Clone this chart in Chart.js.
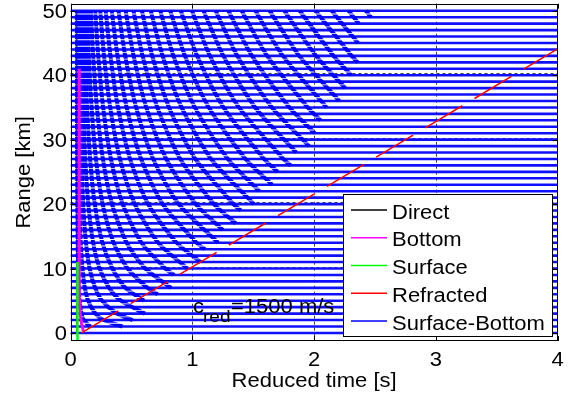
<!DOCTYPE html>
<html>
<head>
<meta charset="utf-8">
<script src="https://cdn.jsdelivr.net/npm/chart.js@4"></script>
<style>
  html, body { margin: 0; padding: 0; background: #fff; }
</style>
</head>
<body>
<canvas id="chart" width="572" height="401"></canvas>
<script>
// axis ticks
const xTicks = [0, 1, 2, 3, 4];
const yTicks = [0, 10, 20, 30, 40, 50];

// one trace line per range [km]
const rowRanges = [0, 1, 2, 3, 4, 5, 6, 7, 8, 9, 10, 11, 12, 13, 14, 15, 16, 17, 18, 19, 20,
  21, 22, 23, 24, 25, 26, 27, 28, 29, 30, 31, 32, 33, 34, 35, 36, 37, 38, 39, 40,
  41, 42, 43, 44, 45, 46, 47, 48, 49, 50];

// legend series
const seriesNames = ['Direct', 'Bottom', 'Surface', 'Refracted', 'Surface-Bottom'];
const seriesColors = ['#000000', '#ff00ff', '#00ff00', '#ff0000', '#0000ff'];

// direct, bottom, surface, refracted arrivals (reduced time [s] vs range [km])
const directT = [0.052, 0.052];
const directR = [0, 50];
const bottomT = [0.105, 0.09, 0.08, 0.074, 0.072, 0.071, 0.071];
const bottomR = [0.3, 1.5, 3, 5, 10, 25, 41];
const surfaceT = [0.057, 0.057];
const surfaceR = [-1.25, 11];
const refrT = [0.09, 4.0];
const refrR = [0, 44.1];

// surface-bottom multiples: first visible point of each branch, then times on a common range grid
const sbGrid = [1, 2, 3, 5, 7, 10, 14, 20, 27, 35, 43, 50];
const sbStartR = [1, 1, 2, 3, 5, 6, 7, 9, 10, 11, 13, 14, 16, 17, 19, 20, 22, 23, 25, 26, 28, 29,
  31, 33, 35, 36, 38, 40, 42, 45, 48, 49];
const sbStartT = [0.161, 0.425, 0.51, 0.611, 0.604, 0.715, 0.826, 0.85, 0.96, 1.07, 1.103, 1.212,
  1.25, 1.358, 1.399, 1.506, 1.55, 1.656, 1.701, 1.807, 1.853, 1.959, 2.005, 2.053, 2.103, 2.207,
  2.256, 2.306, 2.358, 2.361, 2.368, 2.468];
const sbTimes = [
  [null, 0.109, 0.090, 0.074, 0.067, 0.062, 0.059, 0.056, 0.054, 0.053, 0.053, 0.052],
  [null, 0.272, 0.204, 0.145, 0.118, 0.098, 0.084, 0.074, 0.068, 0.064, 0.061, 0.060],
  [null, null, 0.382, 0.259, 0.202, 0.157, 0.127, 0.104, 0.090, 0.081, 0.075, 0.072],
  [null, null, null, 0.414, 0.317, 0.239, 0.186, 0.146, 0.121, 0.105, 0.095, 0.088],
  [null, null, null, null, 0.451, 0.344, 0.262, 0.199, 0.161, 0.136, 0.120, 0.110],
  [null, null, null, null, 0.631, 0.469, 0.354, 0.264, 0.209, 0.173, 0.150, 0.136],
  [null, null, null, null, null, 0.614, 0.461, 0.341, 0.266, 0.217, 0.186, 0.167],
  [null, null, null, null, null, 0.778, 0.583, 0.429, 0.332, 0.268, 0.228, 0.203],
  [null, null, null, null, null, null, 0.720, 0.528, 0.406, 0.326, 0.275, 0.244],
  [null, null, null, null, null, null, 0.871, 0.637, 0.489, 0.390, 0.328, 0.289],
  [null, null, null, null, null, null, 1.035, 0.757, 0.580, 0.461, 0.386, 0.339],
  [null, null, null, null, null, null, null, 0.888, 0.679, 0.539, 0.449, 0.394],
  [null, null, null, null, null, null, null, 1.028, 0.786, 0.622, 0.518, 0.453],
  [null, null, null, null, null, null, null, 1.178, 0.901, 0.713, 0.592, 0.517],
  [null, null, null, null, null, null, null, 1.338, 1.024, 0.809, 0.671, 0.586],
  [null, null, null, null, null, null, null, null, 1.154, 0.912, 0.756, 0.659],
  [null, null, null, null, null, null, null, null, 1.292, 1.021, 0.845, 0.737],
  [null, null, null, null, null, null, null, null, 1.437, 1.136, 0.940, 0.819],
  [null, null, null, null, null, null, null, null, 1.589, 1.256, 1.040, 0.905],
  [null, null, null, null, null, null, null, null, 1.748, 1.383, 1.145, 0.997],
  [null, null, null, null, null, null, null, null, null, 1.516, 1.255, 1.092],
  [null, null, null, null, null, null, null, null, null, 1.654, 1.370, 1.192],
  [null, null, null, null, null, null, null, null, null, 1.798, 1.490, 1.296],
  [null, null, null, null, null, null, null, null, null, 1.948, 1.615, 1.405],
  [null, null, null, null, null, null, null, null, null, null, 1.744, 1.518],
  [null, null, null, null, null, null, null, null, null, null, 1.878, 1.635],
  [null, null, null, null, null, null, null, null, null, null, 2.017, 1.756],
  [null, null, null, null, null, null, null, null, null, null, 2.160, 1.881],
  [null, null, null, null, null, null, null, null, null, null, 2.308, 2.011],
  [null, null, null, null, null, null, null, null, null, null, null, 2.144],
  [null, null, null, null, null, null, null, null, null, null, null, 2.282],
  [null, null, null, null, null, null, null, null, null, null, null, 2.423]
];

const GAP = {x: null, y: null};
const pairs = (ts, rs) => ts.map((t, i) => ({x: t, y: rs[i]}));

const rowData = rowRanges.flatMap(r => [{x: 0, y: r}, {x: 4, y: r}, GAP]);
const sbData = sbTimes.flatMap((row, i) => {
  const pts = [{x: sbStartT[i], y: sbStartR[i]}];
  row.forEach((t, j) => { if (t !== null && sbGrid[j] > sbStartR[i]) pts.push({x: t, y: sbGrid[j]}); });
  pts.push(GAP);
  return pts;
});

const FONT = '"Liberation Sans", Arial, sans-serif';
function txt(ctx, s, x, y, size, align, rot) {
  ctx.save();
  ctx.translate(x, y);
  if (rot) ctx.rotate(rot);
  ctx.scale(1, 0.9);
  ctx.font = size + 'px ' + FONT;
  ctx.textAlign = align || 'left';
  ctx.textBaseline = 'alphabetic';
  ctx.fillStyle = '#000';
  ctx.fillText(s, 0, 0);
  ctx.restore();
}

const matlabFrame = {
  id: 'matlabFrame',
  beforeDatasetsDraw(chart) {
    const {ctx, chartArea: a, scales: {x, y}} = chart;
    ctx.save();
    ctx.strokeStyle = '#404040';
    ctx.lineWidth = 1;
    ctx.setLineDash([3, 3]);
    xTicks.slice(1, -1).forEach(v => {
      const px = Math.round(x.getPixelForValue(v)) + 0.5;
      ctx.beginPath(); ctx.moveTo(px, a.top); ctx.lineTo(px, a.bottom); ctx.stroke();
    });
    yTicks.slice(1, -1).forEach(v => {
      const py = Math.round(y.getPixelForValue(v)) - 1.5;
      ctx.beginPath(); ctx.moveTo(a.left, py); ctx.lineTo(a.right, py); ctx.stroke();
    });
    ctx.restore();
  },
  beforeDatasetDraw(chart, args) {
    if (!chart.data.datasets[args.index].rowClip) return;
    const {ctx, chartArea: a, scales: {y}} = chart;
    ctx.save();
    ctx.beginPath();
    rowRanges.forEach(r => {
      const py = y.getPixelForValue(r);
      ctx.rect(a.left, py - 2.8, a.right - a.left, 5.6);
    });
    ctx.clip();
  },
  afterDatasetDraw(chart, args) {
    if (chart.data.datasets[args.index].rowClip) chart.ctx.restore();
  },
  afterDraw(chart) {
    const {ctx, chartArea: a, scales: {x, y}} = chart;
    ctx.save();
    ctx.strokeStyle = '#000';
    ctx.lineWidth = 1;
    ctx.strokeRect(Math.round(a.left) + 0.5, Math.round(a.top) + 0.5,
      Math.round(a.right - a.left) - 1, Math.round(a.bottom - a.top) - 1);
    ctx.beginPath();
    xTicks.forEach(v => {
      const px = Math.round(x.getPixelForValue(v)) + 0.5;
      ctx.moveTo(px, a.bottom); ctx.lineTo(px, a.bottom - 5);
      ctx.moveTo(px, a.top); ctx.lineTo(px, a.top + 5);
    });
    yTicks.forEach(v => {
      const py = Math.round(y.getPixelForValue(v)) + 0.5;
      ctx.moveTo(a.left, py); ctx.lineTo(a.left + 5, py);
      ctx.moveTo(a.right, py); ctx.lineTo(a.right - 5, py);
    });
    ctx.stroke();
    ctx.restore();

    xTicks.forEach(v => txt(ctx, String(v), x.getPixelForValue(v), 366, 22, 'center'));
    yTicks.forEach(v => txt(ctx, String(v), 67, y.getPixelForValue(v) + 7, 22, 'right'));
    txt(ctx, 'Reduced time [s]', (a.left + a.right) / 2, 387, 22, 'center');
    txt(ctx, 'Range [km]', 30, (a.top + a.bottom) / 2, 22, 'center', -Math.PI / 2);

    // c_red annotation
    txt(ctx, 'c', 193, 313.3, 22, 'left');
    txt(ctx, 'red', 203, 321.5, 19, 'left');
    txt(ctx, '=1500 m/s', 231, 313.3, 22, 'left');

    // legend box
    ctx.save();
    ctx.fillStyle = '#fff';
    ctx.fillRect(343, 194, 210, 143);
    ctx.strokeStyle = '#000';
    ctx.lineWidth = 1;
    ctx.strokeRect(343.5, 194.5, 209, 142);
    seriesNames.forEach((name, i) => {
      const cy = 211.7 + 27.75 * i;
      ctx.strokeStyle = seriesColors[i];
      ctx.lineWidth = 1.5;
      ctx.beginPath(); ctx.moveTo(351, cy - 1.7); ctx.lineTo(387, cy - 1.7); ctx.stroke();
      txt(ctx, name, 392, cy + 7, 22, 'left');
    });
    ctx.restore();
  }
};

new Chart(document.getElementById('chart'), {
  type: 'line',
  data: {
    datasets: [
      {label: seriesNames[3], data: pairs(refrT, refrR), borderColor: seriesColors[3], borderWidth: 1.5,
        borderDash: [43, 14.2]},
      {label: seriesNames[2], data: pairs(surfaceT, surfaceR), borderColor: seriesColors[2], borderWidth: 2.5},
      {label: seriesNames[1], data: pairs(bottomT, bottomR), borderColor: seriesColors[1], borderWidth: 3},
      {label: seriesNames[4], data: sbData, borderColor: seriesColors[4], borderWidth: 4, tension: 0.25,
        rowClip: true},
      {label: seriesNames[0], data: pairs(directT, directR), borderColor: seriesColors[0], borderWidth: 1},
      {label: 'traces', data: rowData, borderColor: '#1010ff', borderWidth: 2.6}
    ]
  },
  options: {
    responsive: false,
    devicePixelRatio: 1,
    animation: false,
    spanGaps: false,
    layout: {padding: {left: 70.5, right: 14.3, top: 3.7, bottom: 60}},
    elements: {point: {radius: 0}, line: {fill: false}},
    scales: {
      x: {type: 'linear', min: 0, max: 4, display: false},
      y: {type: 'linear', min: -1.25, max: 51.1, display: false}
    },
    plugins: {legend: {display: false}, tooltip: {enabled: false}}
  },
  plugins: [matlabFrame]
});
</script>
</body>
</html>
